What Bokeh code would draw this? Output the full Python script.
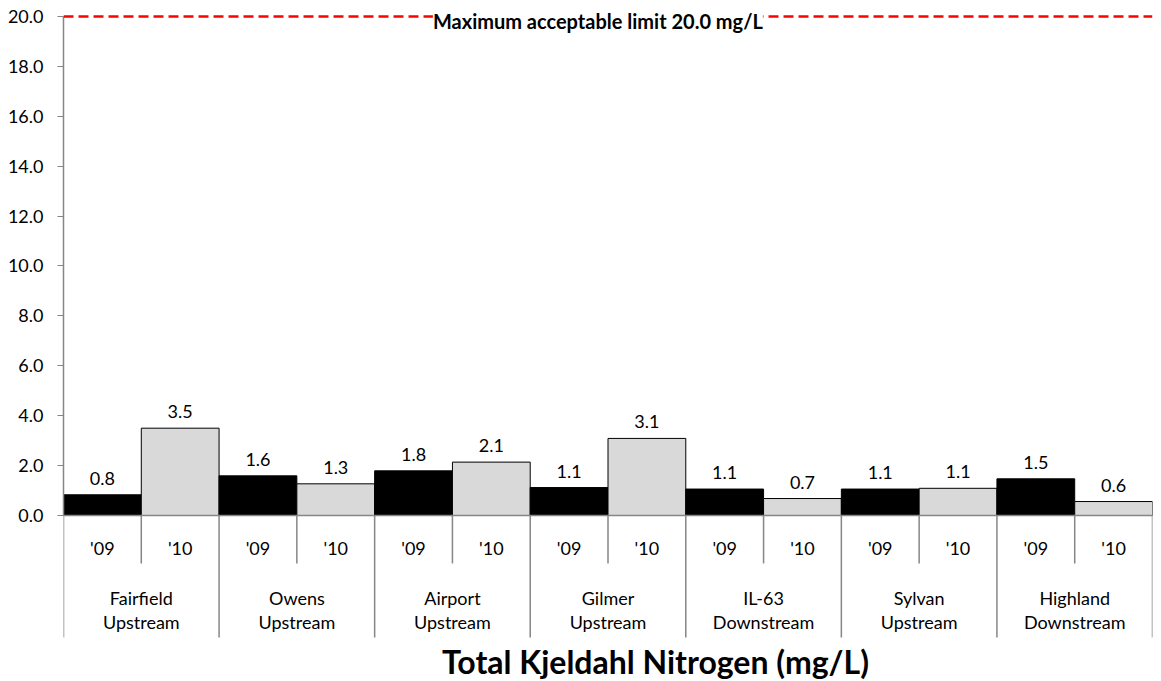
from bokeh.plotting import figure
from bokeh.models import Range1d, FixedTicker, NumeralTickFormatter, Span, Label, ColumnDataSource
from bokeh.core.properties import value
from bokeh.embed import file_html
from bokeh.resources import INLINE

# ---- data ----
sites = ["Fairfield\nUpstream", "Owens\nUpstream", "Airport\nUpstream", "Gilmer\nUpstream",
         "IL-63\nDownstream", "Sylvan\nUpstream", "Highland\nDownstream"]
years = ["'09", "'10"]
tkn_09 = [0.83, 1.59, 1.79, 1.12, 1.06, 1.06, 1.47]
tkn_10 = [3.50, 1.27, 2.14, 3.09, 0.68, 1.09, 0.56]
y_ticks = [0, 2, 4, 6, 8, 10, 12, 14, 16, 18, 20]
limit_value = 20.0
limit_text = "Maximum acceptable limit 20.0 mg/L"
title_text = "Total Kjeldahl Nitrogen (mg/L)"

FONT = "Lato"
AX = "#868686"

n = len(sites)
xs, tops, fills, labels, yl = [], [], [], [], []
for i in range(n):
    for j, v in enumerate((tkn_09[i], tkn_10[i])):
        xs.append(2 * i + j + 0.5)
        tops.append(v)
        fills.append("#000000" if j == 0 else "#d9d9d9")
        labels.append(f"{v:.1f}")
        yl.append(years[j])

src = ColumnDataSource(dict(x=xs, top=tops, fill=fills, label=labels, yl=yl))

p = figure(width=1158, height=681, output_backend="svg", toolbar_location=None,
           x_range=Range1d(0, 2 * n), y_range=Range1d(-6.653, 20.16),
           min_border_left=63, min_border_right=6, min_border_top=12, min_border_bottom=0)
p.xaxis.visible = False
p.xgrid.visible = False
p.ygrid.visible = False
p.outline_line_color = None
p.background_fill_color = "white"

ya = p.yaxis[0]
ya.bounds = (0, 20)
ya.ticker = FixedTicker(ticks=y_ticks)
ya.formatter = NumeralTickFormatter(format="0.0")
ya.axis_line_color = AX
ya.axis_line_width = 1.5
ya.major_tick_line_color = AX
ya.major_tick_out = 6
ya.major_tick_in = 0
ya.minor_tick_out = 0
ya.minor_tick_in = 0
ya.major_label_text_font = FONT
ya.major_label_text_font_size = "18px"
ya.major_label_text_color = "black"
ya.major_label_standoff = 14

# baseline
p.add_layout(Span(location=0, dimension="width", line_color=AX, line_width=1.5))

# bars
p.vbar(x="x", top="top", width=1.0, bottom=0, fill_color="fill", line_color="black",
       line_width=1, source=src)

# data labels
p.text(x="x", y="top", text="label", source=src, text_font=value(FONT), text_font_size="18px",
       text_align="center", text_baseline="bottom", y_offset=-10, text_color="black")

# year category labels
p.text(x="x", y=-1.32, text="yl", source=src, text_font=value(FONT), text_font_size="18px",
       text_align="center", text_baseline="middle", text_color="black")

# separators
year_sep = [2 * i + 1 for i in range(n)]
site_sep = [2 * i for i in range(n + 1)]
p.segment(x0=year_sep, y0=[0] * len(year_sep), x1=year_sep, y1=[-1.92] * len(year_sep),
          line_color=AX, line_width=1.5)
p.segment(x0=site_sep, y0=[0] * len(site_sep), x1=site_sep, y1=[-4.89] * len(site_sep),
          line_color=AX, line_width=1.5)

# site labels
p.text(x=[2 * i + 1 for i in range(n)], y=-3.8, text=sites, text_font=value(FONT),
       text_font_size="18px", text_align="center", text_baseline="middle",
       text_line_height=1.1, text_color="black")

# limit line
p.add_layout(Span(location=limit_value, dimension="width", line_color="#ff0000",
                  line_width=2.5, line_dash="10 5"))
p.add_layout(Label(x=6.87, y=limit_value, text=limit_text, text_font=FONT, text_font_size="20px",
                   text_font_style="bold", text_align="center", text_baseline="middle",
                   y_offset=-5, background_fill_color="white", text_color="black"))

# chart title (bottom)
p.text(x=[7.61], y=[-5.84], text=[title_text], text_font=value(FONT), text_font_size="32px",
       text_font_style="bold", text_align="center", text_baseline="middle", text_color="black")

open("out.html", "w").write(file_html(p, INLINE))
